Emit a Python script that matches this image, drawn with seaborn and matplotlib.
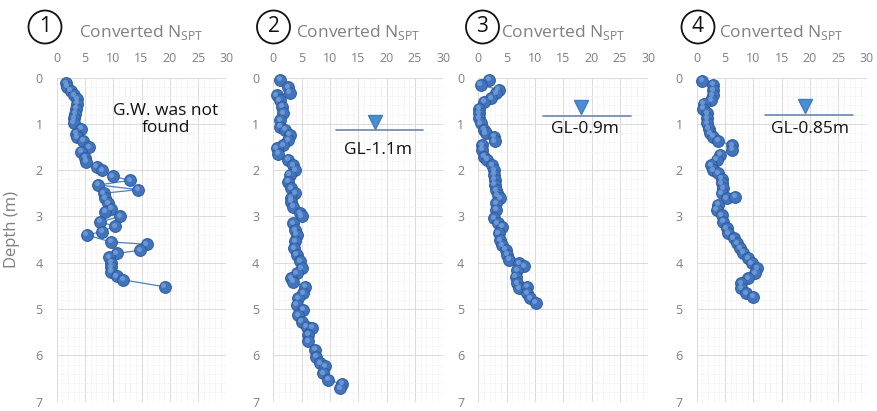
import matplotlib
matplotlib.use("Agg")
import matplotlib.pyplot as plt
from matplotlib.patches import Ellipse
from matplotlib.ticker import MultipleLocator
from matplotlib.transforms import offset_copy
import seaborn as sns

# borehole 1 (converted N_SPT vs depth)
n1 = [1.7, 1.9, 2.5, 3.1, 3.6, 3.6, 3.4, 3.3, 3.1, 3.0, 4.4, 3.4, 3.7, 4.7, 5.8,
      4.3, 5.0, 5.2, 7.1, 8.1, 9.9, 13.0, 7.4, 14.4, 8.3, 8.6, 9.1, 9.7, 8.6, 11.2,
      7.7, 10.3, 8.0, 5.3, 9.6, 15.9, 14.7, 10.6, 9.3, 9.6, 9.6, 9.7, 10.6, 11.8, 19.1]
d1 = [0.12, 0.20, 0.29, 0.38, 0.47, 0.56, 0.67, 0.78, 0.88, 0.98, 1.10, 1.21, 1.29, 1.37, 1.50,
      1.60, 1.73, 1.82, 1.93, 2.00, 2.13, 2.22, 2.32, 2.42, 2.50, 2.61, 2.72, 2.83, 2.90, 3.00,
      3.12, 3.21, 3.33, 3.40, 3.55, 3.60, 3.73, 3.80, 3.88, 4.00, 4.10, 4.19, 4.29, 4.37, 4.52]

# borehole 2
n2 = [1.2, 2.6, 2.9, 0.6, 1.1, 1.5, 1.8, 1.2, 1.2, 2.1, 2.9, 2.6, 1.8, 0.6, 0.9,
      2.6, 3.5, 3.8, 2.9, 2.6, 3.2, 3.8, 3.2, 3.2, 3.5, 4.7, 5.0, 3.5, 3.8, 4.1,
      3.8, 3.7, 4.1, 4.7, 5.0, 4.1, 3.2, 3.5, 5.6, 5.3, 4.4, 4.1, 5.3, 4.4, 5.0,
      5.9, 6.8, 6.2, 6.2, 7.4, 7.6, 8.2, 9.1, 8.8, 9.7, 12.1, 11.8]
d2 = [0.05, 0.21, 0.33, 0.38, 0.49, 0.63, 0.77, 0.92, 1.06, 1.13, 1.24, 1.35, 1.46, 1.53, 1.64,
      1.78, 1.89, 2.00, 2.10, 2.25, 2.39, 2.50, 2.61, 2.68, 2.79, 2.93, 3.00, 3.15, 3.30, 3.40,
      3.54, 3.69, 3.83, 3.97, 4.12, 4.23, 4.34, 4.41, 4.52, 4.66, 4.77, 4.91, 5.02, 5.13, 5.27,
      5.38, 5.41, 5.56, 5.70, 5.88, 6.03, 6.17, 6.24, 6.39, 6.53, 6.62, 6.71]

# borehole 3
n3 = [1.9, 0.4, 3.6, 3.1, 2.2, 1.0, 0.1, 0.1, 0.1, 0.4, 1.0, 1.3, 2.8, 2.9, 0.7,
      0.7, 1.0, 1.6, 2.5, 2.8, 2.8, 2.9, 2.9, 3.1, 3.4, 3.8, 3.1, 3.1, 2.8, 3.4,
      4.2, 3.6, 3.9, 4.2, 4.8, 5.1, 5.4, 7.2, 8.1, 6.9, 6.6, 6.9, 7.2, 8.6, 8.6,
      9.2, 10.1]
d3 = [0.05, 0.16, 0.26, 0.34, 0.45, 0.52, 0.67, 0.77, 0.88, 0.99, 1.13, 1.20, 1.28, 1.38, 1.46,
      1.56, 1.71, 1.78, 1.89, 2.00, 2.10, 2.21, 2.32, 2.43, 2.54, 2.61, 2.72, 2.86, 3.04, 3.15,
      3.22, 3.36, 3.51, 3.62, 3.72, 3.83, 3.94, 4.01, 4.08, 4.16, 4.30, 4.44, 4.55, 4.52, 4.66,
      4.77, 4.87]

# borehole 4
n4 = [0.9, 2.9, 2.9, 2.8, 2.6, 1.2, 1.1, 1.8, 1.9, 1.9, 2.1, 2.4, 2.9, 3.8, 6.2,
      6.2, 4.1, 3.5, 2.6, 2.9, 3.8, 4.4, 4.4, 4.7, 4.4, 5.3, 6.8, 3.8, 3.5, 4.4,
      4.7, 5.3, 5.6, 6.5, 7.1, 7.6, 8.2, 9.1, 9.7, 10.6, 10.3, 9.1, 7.9, 7.9, 8.7,
      10.0]
d4 = [0.07, 0.16, 0.27, 0.38, 0.49, 0.56, 0.67, 0.77, 0.88, 0.99, 1.10, 1.20, 1.28, 1.36, 1.46,
      1.56, 1.67, 1.78, 1.89, 2.00, 2.07, 2.18, 2.28, 2.39, 2.50, 2.61, 2.57, 2.75, 2.86, 2.97,
      3.11, 3.26, 3.36, 3.47, 3.58, 3.69, 3.79, 3.90, 4.01, 4.12, 4.23, 4.34, 4.44, 4.55, 4.66,
      4.73]

labels = ["1", "2", "3", "4"]
gw_labels = [None, "GL-1.1m", "GL-0.9m", "GL-0.85m"]
gw_line_x = [None, (11.1, 26.5), (11.5, 27.0), (12.0, 27.5)]
gw_depth = [None, 1.13, 0.83, 0.80]
gw_mark = [None, (17.9, 0.95), (18.2, 0.63), (19.1, 0.62)]
gw_text = [None, (18.5, 1.57), (18.8, 1.10), (20.0, 1.10)]

sns.set_theme(style="white")
plt.rcParams["font.family"] = ["Open Sans", "DejaVu Sans"]
plt.rcParams["mathtext.fontset"] = "custom"
plt.rcParams["mathtext.rm"] = "Open Sans"

W, H = 878, 411
fig = plt.figure(figsize=(W / 100, H / 100), dpi=100)

lefts = [56.5, 273.3, 478.3, 696.7]
circ_x = [45, 273.5, 482.5, 698]
data = [(n1, d1), (n2, d2), (n3, d3), (n4, d4)]

for i, (nv, dv) in enumerate(data):
    ax = fig.add_axes([lefts[i] / W, 1 - 401.6 / H, 170 / W, 324 / H])
    ax.set_axisbelow(True)
    sns.lineplot(x=nv, y=dv, sort=False, estimator=None, ax=ax,
                 color="#4f81bd", lw=0.9, marker="o", markersize=8.5, clip_on=False,
                 markerfacecolor="#4174bd", markeredgecolor="#2d5b9c", markeredgewidth=0.7)
    # small highlight so the dots look a bit like the shaded spheres
    hl = offset_copy(ax.transData, fig=fig, x=-0.9, y=1.1, units="points")
    ax.plot(nv, dv, ls="none", marker="o", ms=3.6, color="#7aa3dc", alpha=0.75,
            mec="none", transform=hl, clip_on=False)
    ax.set_xlim(0, 30)
    ax.set_ylim(7, 0)
    ax.xaxis.set_major_locator(MultipleLocator(5))
    ax.xaxis.set_minor_locator(MultipleLocator(1))
    ax.yaxis.set_major_locator(MultipleLocator(1))
    ax.yaxis.set_minor_locator(MultipleLocator(0.2))
    ax.xaxis.tick_top()
    ax.tick_params(which="both", length=0, labelsize=9, colors="#7f7f7f")
    ax.tick_params(axis="x", pad=9)
    ax.tick_params(axis="y", pad=10)
    ax.grid(which="major", color="#dcdcdc", lw=0.8)
    ax.grid(which="minor", color="#f3f3f3", lw=0.5)
    for s in ax.spines.values():
        s.set_visible(False)
    ax.set_xlabel("")
    ax.set_ylabel("")

    ax.text(0.5, 1.14, r"Converted N$_{\mathrm{SPT}}$", transform=ax.transAxes,
            ha="center", va="center", color="#808080", fontsize=12.5)

    cx, cy, r = circ_x[i], 27, 16.5
    fig.patches.append(Ellipse((cx / W, 1 - cy / H), 2 * r / W, 2 * r / H,
                               transform=fig.transFigure, fill=False, ec="#111111", lw=1.3))
    fig.text(cx / W, 1 - cy / H, labels[i], ha="center", va="center",
             fontsize=15, color="#111111")

    if gw_labels[i] is None:
        ax.text(19.3, 0.9, "G.W. was not\nfound", ha="center", va="center",
                fontsize=12.5, color="#111111", linespacing=1.05)
    else:
        x0, x1 = gw_line_x[i]
        ax.plot([x0, x1], [gw_depth[i], gw_depth[i]], color="#6a88b0", lw=1.2)
        ax.plot([gw_mark[i][0]], [gw_mark[i][1]], marker="v", ms=10,
                color="#4a8fd6", mec="#3d7cc0")
        ax.text(gw_text[i][0], gw_text[i][1], gw_labels[i], ha="center", va="center",
                fontsize=12.5, color="#111111")

fig.text(12 / W, 1 - 230 / H, "Depth (m)", rotation=90, ha="center", va="center",
         fontsize=12, color="#7f7f7f")

fig.savefig("out.png", dpi=100)
